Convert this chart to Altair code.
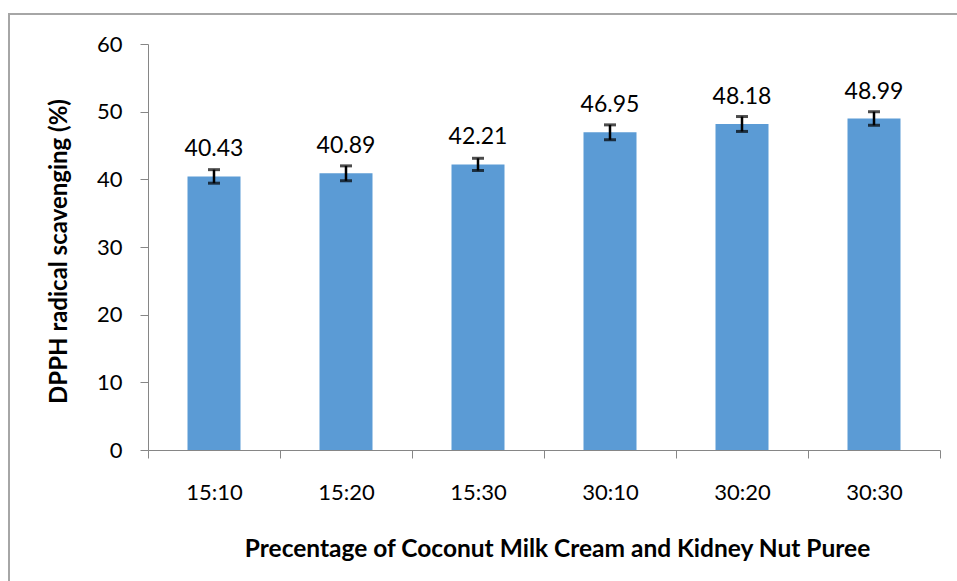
import altair as alt
import pandas as pd

categories = ["15:10", "15:20", "15:30", "30:10", "30:20", "30:30"]
values = [40.43, 40.89, 42.21, 46.95, 48.18, 48.99]
errors = [1.0, 1.1, 0.9, 1.1, 1.1, 1.0]
labels = ["40.43", "40.89", "42.21", "46.95", "48.18", "48.99"]

df = pd.DataFrame({
    "cat": categories,
    "val": values,
    "lo": [v - e for v, e in zip(values, errors)],
    "hi": [v + e for v, e in zip(values, errors)],
    "lab": labels,
})

FONT = "Lato"
AX = "#868686"

x = alt.X("cat:N", sort=categories, scale=alt.Scale(paddingInner=0, paddingOuter=0),
          axis=alt.Axis(title="Precentage of Coconut Milk Cream and Kidney Nut Puree",
                        labelAngle=0, tickBand="extent", tickSize=8, labelPadding=24,
                        domainColor=AX, tickColor=AX, labelFontSize=22, labelColor="black",
                        labelFont=FONT, titleFont=FONT, titleFontSize=24.5, titleFontWeight="bold",
                        titleX=409, titleY=99, titleBaseline="middle", titleColor="black"))
y = alt.Y("val:Q", scale=alt.Scale(domain=[0, 60]),
          axis=alt.Axis(title="DPPH radical scavenging (%)", values=[0, 10, 20, 30, 40, 50, 60],
                        grid=False, tickSize=8, labelPadding=18, domainColor=AX, tickColor=AX,
                        labelFontSize=22, labelFont=FONT, labelColor="black",
                        titleFont=FONT, titleFontSize=24, titleFontWeight="bold",
                        titleX=-89, titleY=207, titleAngle=-90, titleBaseline="middle",
                        titleColor="black"))

base = alt.Chart(df)

border = base.mark_rect(fill=None, stroke="#a6a6a6", strokeWidth=2).encode(
    x=alt.value(-139), x2=alt.value(900), y=alt.value(-30), y2=alt.value(600)
).transform_filter("datum.cat == '15:10'")

bars = base.mark_bar(size=53, color="#5B9BD5").encode(x=x, y=y)

rules = base.mark_rule(color="black", strokeWidth=2.5).encode(
    x=alt.X("cat:N", sort=categories), y="lo:Q", y2="hi:Q")
caps_lo = base.mark_tick(color="black", thickness=3, size=12, orient="horizontal").encode(
    x=alt.X("cat:N", sort=categories), y="lo:Q")
caps_hi = base.mark_tick(color="black", thickness=3, size=12, orient="horizontal").encode(
    x=alt.X("cat:N", sort=categories), y="hi:Q")

text = base.mark_text(font=FONT, fontSize=23, color="black", baseline="middle", dy=-27).encode(
    x=alt.X("cat:N", sort=categories), y="val:Q", text="lab:N")

chart = alt.layer(border, bars, rules, caps_lo, caps_hi, text).properties(
    width=792, height=406,
    autosize=alt.AutoSizeParams(type="none"),
    padding={"left": 148, "top": 44, "right": 17, "bottom": 131},
    background="white",
).configure_view(stroke=None)

chart.save("out.html", embed_options={"renderer": "svg", "actions": False})
